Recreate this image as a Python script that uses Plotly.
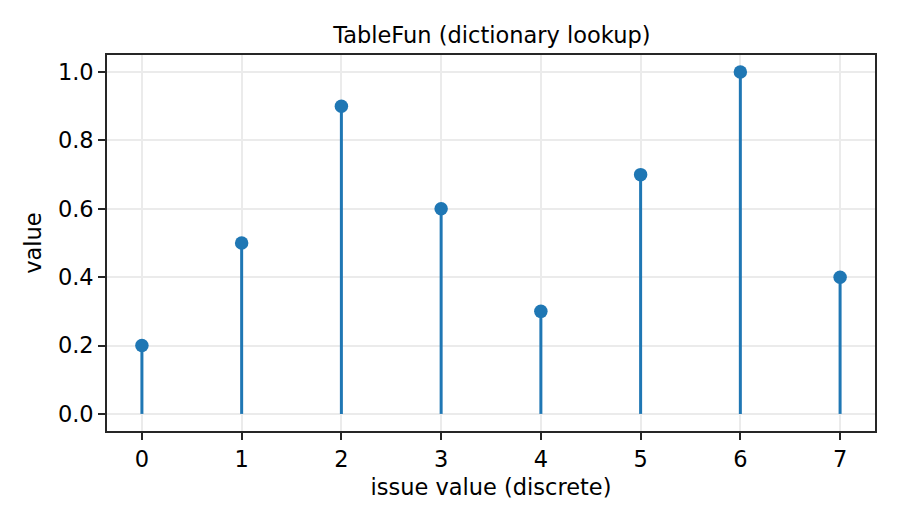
import plotly.graph_objects as go

# issue values and their table lookups
issue_values = [0, 1, 2, 3, 4, 5, 6, 7]
lookup_values = [0.2, 0.5, 0.9, 0.6, 0.3, 0.7, 1.0, 0.4]
y_ticks = [0.0, 0.2, 0.4, 0.6, 0.8, 1.0]

blue = "#1f77b4"
font = dict(family="DejaVu Sans", size=22.5, color="black")

# stems: one segment per value, separated by None
stem_x = []
stem_y = []
for xv, yv in zip(issue_values, lookup_values):
    stem_x += [xv, xv, None]
    stem_y += [0, yv, None]

stems = go.Scatter(x=stem_x, y=stem_y, mode="lines",
                   line=dict(color=blue, width=3), hoverinfo="skip")
heads = go.Scatter(x=issue_values, y=lookup_values, mode="markers",
                   marker=dict(color=blue, size=13.5))

axis_common = dict(showline=True, linecolor="#262626", linewidth=1.6, mirror=True,
                   ticks="outside", ticklen=7, tickwidth=1.6, tickcolor="#262626",
                   showgrid=True, gridcolor="#ebebeb", gridwidth=1.6,
                   zeroline=False, tickfont=font)

layout = dict(
    title=dict(text="TableFun (dictionary lookup)", x=0.5465, xanchor="center",
               y=0.933, yanchor="middle", font=font),
    width=900, height=525,
    margin=dict(l=107, r=25, t=55, b=94),
    paper_bgcolor="white", plot_bgcolor="white",
    showlegend=False,
    xaxis=dict(axis_common, range=[-0.35, 7.35], tickvals=issue_values,
               title=dict(text="issue value (discrete)", font=font, standoff=8)),
    yaxis=dict(axis_common, range=[-0.05, 1.05], tickvals=y_ticks,
               tickformat=".1f",
               title=dict(text="value", font=font, standoff=10)),
)

fig = go.Figure(data=[stems, heads], layout=layout)
fig.write_html("out.html", config={"displayModeBar": False},
               post_script="document.body.style.margin='0';")
